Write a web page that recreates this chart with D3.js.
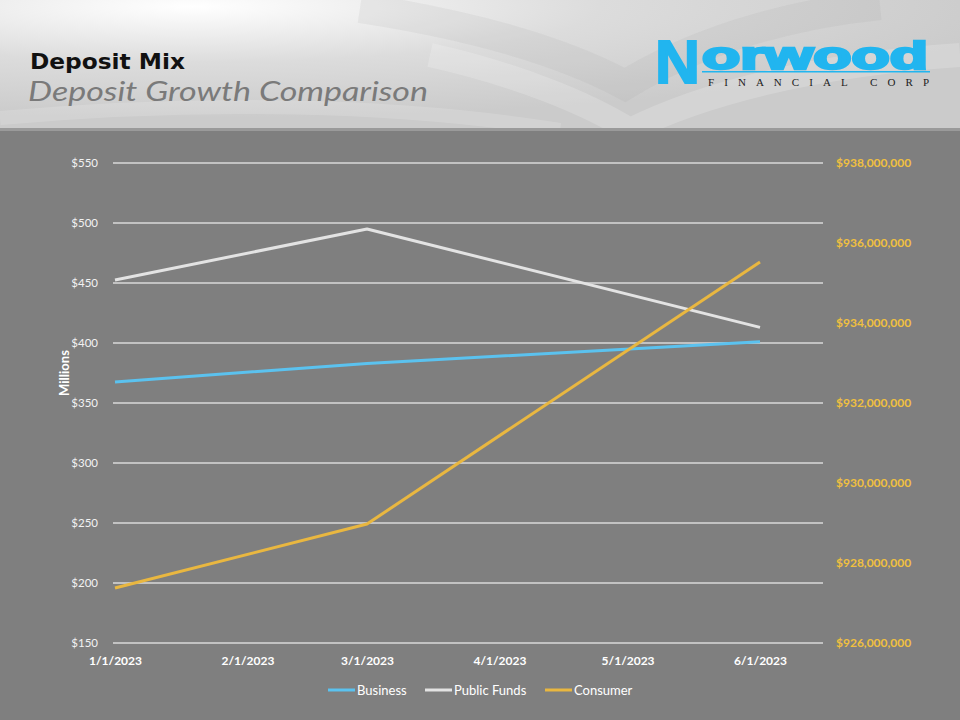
<!DOCTYPE html>
<html>
<head>
<meta charset="utf-8">
<script src="https://cdn.jsdelivr.net/npm/d3@7"></script>
<style>
  body { margin: 0; background: #fff; }
  svg { display: block; font-family: Lato, "Open Sans", sans-serif; }
</style>
</head>
<body>
<script>

// data
var pointDates = ["2023-01-01", "2023-03-01", "2023-06-01"];
var business = [367.5, 383, 401];
var publicFunds = [452.5, 495, 413];
var consumer = [927375000, 928975000, 935525000];

var tickDates = ["2023-01-01", "2023-02-01", "2023-03-01", "2023-04-01", "2023-05-01", "2023-06-01"];
var leftTicks = [150, 200, 250, 300, 350, 400, 450, 500, 550];
var rightTicks = [926000000, 928000000, 930000000, 932000000, 934000000, 936000000, 938000000];

var seriesNames = ["Business", "Public Funds", "Consumer"];
var seriesColors = ["#5bc2ef", "#e3e3e3", "#e9b740"];

var width = 960,
    height = 720,
    plot = {left: 115, right: 823, top: 163, bottom: 643};

var parseDate = d3.utcParse("%Y-%m-%d");
var fmtDate = d3.utcFormat("%-m/%-d/%Y");

var svg = d3.select("body").append("svg")
    .attr("width", width)
    .attr("height", height);

// ---- header band ----
var defs = svg.append("defs");
var grad = defs.append("radialGradient")
    .attr("id", "hdr")
    .attr("cx", 0.2).attr("cy", 0.05)
    .attr("r", 0.85);
grad.append("stop").attr("offset", "0%").attr("stop-color", "#ffffff");
grad.append("stop").attr("offset", "50%").attr("stop-color", "#dcdcdc");
grad.append("stop").attr("offset", "100%").attr("stop-color", "#cbcbcb");

svg.append("rect")
    .attr("width", width).attr("height", 131)
    .attr("fill", "url(#hdr)");

// faint swooshes
var swoosh = svg.append("g").attr("fill", "none");
swoosh.append("path")
    .attr("d", "M360,8 C470,25 560,50 625,85 C690,45 780,15 880,5")
    .attr("stroke", "#9a9a9a").attr("stroke-opacity", 0.12).attr("stroke-width", 30);
swoosh.append("path")
    .attr("d", "M430,55 C520,75 590,105 630,130 C700,95 810,65 960,55")
    .attr("stroke", "#ffffff").attr("stroke-opacity", 0.18).attr("stroke-width", 24);
swoosh.append("path")
    .attr("d", "M0,118 C200,100 400,104 560,130")
    .attr("stroke", "#ffffff").attr("stroke-opacity", 0.15).attr("stroke-width", 14);

svg.append("rect")
    .attr("y", 128).attr("width", width).attr("height", 3)
    .attr("fill", "#9a9a9a");

svg.append("text")
    .attr("x", 30).attr("y", 69)
    .attr("font-family", "'DejaVu Sans', Verdana, sans-serif")
    .attr("font-weight", "bold")
    .attr("font-size", 22)
    .attr("fill", "#111")
    .attr("textLength", 155)
    .attr("lengthAdjust", "spacingAndGlyphs")
    .text("Deposit Mix");

svg.append("text")
    .attr("x", 28).attr("y", 101)
    .attr("font-family", "Lato, sans-serif")
    .attr("font-style", "italic")
    .attr("font-size", 27)
    .attr("fill", "#7a7a7a")
    .attr("textLength", 400)
    .attr("lengthAdjust", "spacingAndGlyphs")
    .text("Deposit Growth Comparison");

// logo
var logo = svg.append("g").attr("fill", "#21b5ef").attr("stroke", "#21b5ef");
logo.append("text")
    .attr("x", 655).attr("y", 83)
    .attr("font-family", "'Liberation Sans', Arial, sans-serif")
    .attr("font-weight", "bold")
    .attr("font-size", 62)
    .attr("stroke-width", 2)
    .attr("textLength", 45)
    .attr("lengthAdjust", "spacingAndGlyphs")
    .text("N");
logo.append("text")
    .attr("x", 702).attr("y", 69)
    .attr("font-family", "'Liberation Sans', Arial, sans-serif")
    .attr("font-weight", "bold")
    .attr("font-size", 38)
    .attr("stroke-width", 2.5)
    .attr("textLength", 226)
    .attr("lengthAdjust", "spacingAndGlyphs")
    .text("orwood");
logo.append("rect")
    .attr("x", 702).attr("y", 71).attr("width", 228).attr("height", 1.5)
    .attr("stroke", "none");
svg.append("text")
    .attr("x", 708).attr("y", 86)
    .attr("font-family", "'Liberation Serif', serif")
    .attr("font-size", 11)
    .attr("fill", "#222")
    .attr("textLength", 221)
    .attr("lengthAdjust", "spacing")
    .text("FINANCIAL CORP");

// ---- chart area ----
svg.append("rect")
    .attr("y", 131).attr("width", width).attr("height", height - 131)
    .attr("fill", "#7f7f7f");

var x = d3.scaleUtc()
    .domain([parseDate("2023-01-01"), parseDate("2023-06-01")])
    .range([plot.left, 760]);

var yLeft = d3.scaleLinear()
    .domain([150, 550])
    .range([plot.bottom, plot.top]);

var yRight = d3.scaleLinear()
    .domain([926000000, 938000000])
    .range([plot.bottom, plot.top]);

// gridlines
svg.append("g")
    .selectAll("line")
    .data(leftTicks)
  .enter().append("line")
    .attr("x1", plot.left - 2)
    .attr("x2", plot.right)
    .attr("y1", function(d) { return yLeft(d); })
    .attr("y2", function(d) { return yLeft(d); })
    .attr("stroke", "#d9d9d9")
    .attr("stroke-width", 1.5);

// left axis
var gl = svg.append("g")
    .attr("transform", "translate(" + (plot.left - 14) + ",0)")
    .call(d3.axisLeft(yLeft).tickValues(leftTicks).tickSize(0).tickFormat(function(d) { return "$" + d; }));
gl.select(".domain").remove();
gl.selectAll("text")
    .attr("fill", "#f2f2f2")
    .attr("font-size", 11.5)
    .attr("font-family", "Lato, sans-serif");

// right axis
var gr = svg.append("g")
    .attr("transform", "translate(836,0)")
    .call(d3.axisRight(yRight).tickValues(rightTicks).tickSize(0).tickFormat(d3.format("$,.0f")));
gr.select(".domain").remove();
gr.selectAll("text")
    .attr("x", 0)
    .attr("fill", "#f0c040")
    .attr("font-size", 12)
    .attr("font-weight", "bold")
    .attr("font-family", "Lato, sans-serif");

// x axis
var gx = svg.append("g")
    .attr("transform", "translate(0," + plot.bottom + ")")
    .call(d3.axisBottom(x).tickValues(tickDates.map(parseDate)).tickSize(0).tickFormat(fmtDate));
gx.select(".domain").remove();
gx.selectAll("text")
    .attr("dy", "1.6em")
    .attr("fill", "#ffffff")
    .attr("font-size", 12)
    .attr("font-weight", "bold")
    .attr("font-family", "Lato, sans-serif");

svg.append("text")
    .attr("transform", "translate(69,373) rotate(-90)")
    .attr("text-anchor", "middle")
    .attr("fill", "#ffffff")
    .attr("font-size", 13)
    .attr("font-weight", "bold")
    .text("Millions");

// lines
var leftLine = d3.line()
    .x(function(d) { return x(d.date); })
    .y(function(d) { return yLeft(d.value); });

var rightLine = d3.line()
    .x(function(d) { return x(d.date); })
    .y(function(d) { return yRight(d.value); });

function pairs(values) {
  return values.map(function(v, i) { return {date: parseDate(pointDates[i]), value: v}; });
}

[business, publicFunds].forEach(function(vals, i) {
  svg.append("path")
    .datum(pairs(vals))
    .attr("fill", "none")
    .attr("stroke", seriesColors[i])
    .attr("stroke-width", 3)
    .attr("stroke-linejoin", "round")
    .attr("d", leftLine);
});

svg.append("path")
    .datum(pairs(consumer))
    .attr("fill", "none")
    .attr("stroke", seriesColors[2])
    .attr("stroke-width", 3)
    .attr("stroke-linejoin", "round")
    .attr("d", rightLine);

// legend
var legendX = [328, 425, 545];
var legend = svg.append("g")
    .selectAll("g")
    .data(seriesNames)
  .enter().append("g")
    .attr("transform", function(d, i) { return "translate(" + legendX[i] + ",690)"; });

legend.append("line")
    .attr("x1", 0).attr("x2", 27)
    .attr("stroke", function(d, i) { return seriesColors[i]; })
    .attr("stroke-width", 3);

legend.append("text")
    .attr("x", 29)
    .attr("dy", "0.35em")
    .attr("fill", "#ffffff")
    .attr("font-size", 13)
    .text(function(d) { return d; });

</script>
</body>
</html>
